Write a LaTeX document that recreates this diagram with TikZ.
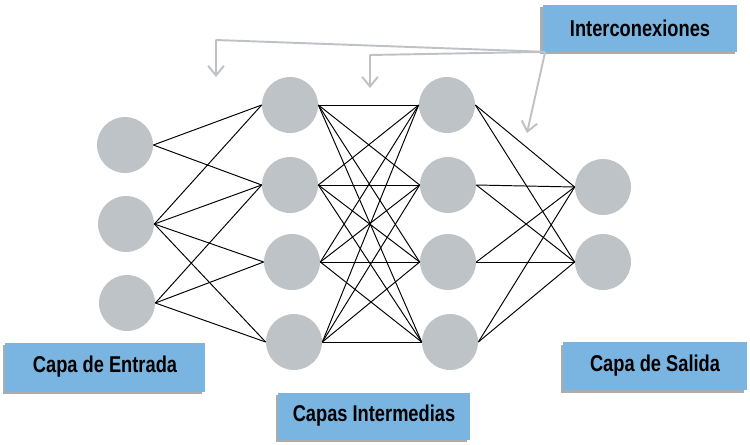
\documentclass[tikz,border=0pt]{standalone}
\usepackage{fontspec}
\usepackage{tikz}
\usetikzlibrary{arrows.meta}
\usetikzlibrary{shapes, shadows}
\newfontfamily\boxfont{Liberation Sans}[FakeStretch=0.8]
\definecolor{boxblue}{RGB}{122,180,224}
\definecolor{neurongray}{RGB}{190,195,200}
\definecolor{pointergray}{RGB}{190,194,198}

\begin{document}
\begin{tikzpicture}[x=0.02cm,y=-0.02cm,line join=bevel,
  neuron/.style={circle,fill=neurongray,draw=none,minimum size=1.12cm,inner sep=0pt},
  labelbox/.style={rectangle,fill=boxblue,draw=none,inner sep=0pt,
    font=\boxfont\bfseries\fontsize{13}{15}\selectfont,
    drop shadow={shadow xshift=-0.05cm,shadow yshift=-0.05cm,fill=gray!65,opacity=1}},
  link/.style={black,line width=0.55pt},
  pointer/.style={pointergray,line width=1.1pt,-{Straight Barb[length=5.5pt,width=9pt]}}]
\useasboundingbox (0,0) rectangle (750,444);
%%
\node (in_1) at (125,145) [neuron] {};
  \node (in_2) at (126,224) [neuron] {};
  \node (in_3) at (127,303) [neuron] {};
  \node (hid1_1) at (290,105) [neuron] {};
  \node (hid1_2) at (290,185) [neuron] {};
  \node (hid1_3) at (292,262) [neuron] {};
  \node (hid1_4) at (294,342) [neuron] {};
  \node (hid2_1) at (447,105) [neuron] {};
  \node (hid2_2) at (448,185) [neuron] {};
  \node (hid2_3) at (448,262) [neuron] {};
  \node (hid2_4) at (450,342) [neuron] {};
  \node (out_1) at (603,187) [neuron] {};
  \node (out_2) at (603,262) [neuron] {};
%
  \node (lbl_inter) at (640,28) [labelbox,minimum width=3.9cm,minimum height=0.94cm] {Interconexiones};
  \node (lbl_in) at (105,367) [labelbox,minimum width=4cm,minimum height=0.98cm] {Capa de Entrada};
  \node (lbl_hid) at (374,416) [labelbox,minimum width=3.84cm,minimum height=0.94cm] {Capas Intermedias};
  \node (lbl_out) at (655,366) [labelbox,minimum width=3.68cm,minimum height=0.96cm] {Capa de Salida};
%
  \draw [link] (in_1.east) -- (hid1_1.west);
  \draw [link] (in_1.east) -- (hid1_2.west);
  \draw [link] (in_2.east) -- (hid1_1.west);
  \draw [link] (in_2.east) -- (hid1_2.west);
  \draw [link] (in_2.east) -- (hid1_3.west);
  \draw [link] (in_2.east) -- (hid1_4.west);
  \draw [link] (in_3.east) -- (hid1_2.west);
  \draw [link] (in_3.east) -- (hid1_3.west);
  \draw [link] (in_3.east) -- (hid1_4.west);
%
  \draw [link] (hid1_1.east) -- (hid2_1.west);
  \draw [link] (hid1_1.east) -- (hid2_2.west);
  \draw [link] (hid1_1.east) -- (hid2_3.west);
  \draw [link] (hid1_1.east) -- (hid2_4.west);
  \draw [link] (hid1_2.east) -- (hid2_1.west);
  \draw [link] (hid1_2.east) -- (hid2_2.west);
  \draw [link] (hid1_2.east) -- (hid2_3.west);
  \draw [link] (hid1_2.east) -- (hid2_4.west);
  \draw [link] (hid1_3.east) -- (hid2_1.west);
  \draw [link] (hid1_3.east) -- (hid2_2.west);
  \draw [link] (hid1_3.east) -- (hid2_3.west);
  \draw [link] (hid1_3.east) -- (hid2_4.west);
  \draw [link] (hid1_4.east) -- (hid2_1.west);
  \draw [link] (hid1_4.east) -- (hid2_2.west);
  \draw [link] (hid1_4.east) -- (hid2_3.west);
  \draw [link] (hid1_4.east) -- (hid2_4.west);
%
  \draw [link] (hid2_1.east) -- (out_1.west);
  \draw [link] (hid2_1.east) -- (out_2.west);
  \draw [link] (hid2_2.east) -- (out_1.west);
  \draw [link] (hid2_2.east) -- (out_2.west);
  \draw [link] (hid2_3.east) -- (out_1.west);
  \draw [link] (hid2_3.east) -- (out_2.west);
  \draw [link] (hid2_4.east) -- (out_1.west);
  \draw [link] (hid2_4.east) -- (out_2.west);
%
  \coordinate (tip_1) at (216,77);
  \coordinate (tip_2) at (370,88);
  \coordinate (tip_3) at (527,133);
  \draw [pointer] ([xshift=0.06cm]lbl_inter.south west) -- (216,40) -- (tip_1);
  \draw [pointer] ([xshift=0.06cm]lbl_inter.south west) -- (370,55) -- (tip_2);
  \draw [pointer] ([xshift=0.06cm]lbl_inter.south west) -- (tip_3);
%
\end{tikzpicture}
\end{document}
